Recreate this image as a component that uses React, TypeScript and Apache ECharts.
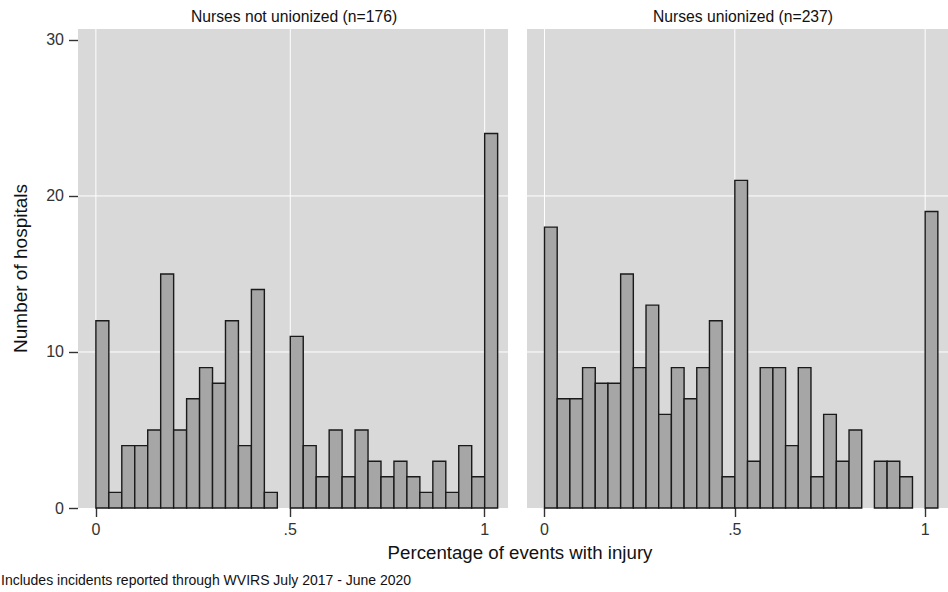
import React, { useEffect, useRef } from 'react';
import * as echarts from 'echarts';

// Histogram bins: width 1/30, starting at 0 (last bin starts at 1)
const binWidth = 1 / 30;
const notUnionized = [12, 1, 4, 4, 5, 15, 5, 7, 9, 8, 12, 4, 14, 1, 0, 11, 4, 2, 5, 2, 5, 3, 2, 3, 2, 1, 3, 1, 4, 2, 24];
const unionized = [18, 7, 7, 9, 8, 8, 15, 9, 13, 6, 9, 7, 9, 12, 2, 21, 3, 9, 9, 4, 9, 2, 6, 3, 5, 0, 3, 3, 2, 0, 19];
const panelTitles = ['Nurses not unionized (n=176)', 'Nurses unionized (n=237)'];
const xTicks = [0, 0.5, 1];
const xTickLabels = ['0', '.5', '1'];
const yTicks = [0, 10, 20, 30];
const yGridLines = [10, 20];
const xTitle = 'Percentage of events with injury';
const yTitle = 'Number of hospitals';
const note = 'Includes incidents reported through WVIRS July 2017 - June 2020';

const FONT = '"Liberation Sans", Arial, Helvetica, sans-serif';

export default function App() {
  const ref = useRef<HTMLDivElement>(null);

  useEffect(() => {
    if (!ref.current) return;
    const chart = echarts.init(ref.current, null, { renderer: 'svg' });

    const panels = [notUnionized, unionized];
    const gridLefts = [78, 527];

    const grids = gridLefts.map((l) => ({
      left: l,
      top: 29,
      width: 430,
      height: 479,
      show: true,
      backgroundColor: '#d9d9d9',
      borderWidth: 0,
      containLabel: false,
    }));

    const xAxes = panels.map((_, i) => ({
      type: 'value',
      gridIndex: i,
      position: 'bottom',
      min: -0.046,
      max: 1.06,
      axisLine: { show: false, onZero: false },
      splitLine: { show: false },
      axisTick: {
        show: true,
        length: 9,
        customValues: xTicks,
        lineStyle: { color: '#333', width: 1.4 },
      },
      axisLabel: {
        customValues: xTicks,
        formatter: (v: number) => {
          const k = xTicks.findIndex((t) => Math.abs(t - v) < 1e-9);
          return k >= 0 ? xTickLabels[k] : '';
        },
        fontSize: 16,
        fontFamily: FONT,
        color: '#333',
        margin: 13,
      },
    }));

    const yAxes = panels.map((_, i) => ({
      type: 'value',
      gridIndex: i,
      position: 'left',
      min: 0,
      max: 30.7,
      axisLine: { show: false, onZero: false },
      splitLine: { show: false },
      axisTick: {
        show: i === 0,
        length: 9,
        customValues: yTicks,
        lineStyle: { color: '#333', width: 1.4 },
      },
      axisLabel: {
        show: i === 0,
        customValues: yTicks,
        fontSize: 16,
        fontFamily: FONT,
        color: '#333',
        margin: 14,
      },
      name: i === 0 ? yTitle : '',
      nameLocation: 'middle',
      nameGap: 48,
      nameTextStyle: { fontSize: 19, fontFamily: FONT, color: '#111' },
    }));

    const gridLineStyle = { stroke: '#ffffff', lineWidth: 1 };

    const series: any[] = [];
    panels.forEach((counts, i) => {
      // vertical white grid lines at the x tick values
      series.push({
        type: 'custom',
        xAxisIndex: i,
        yAxisIndex: i,
        z: 1,
        silent: true,
        data: xTicks.map((v) => [v, 0]),
        encode: { x: 0, y: 1 },
        renderItem: (params: any, api: any) => {
          const cs = params.coordSys;
          const p = api.coord([api.value(0), 0]);
          return {
            type: 'line',
            shape: { x1: p[0], y1: cs.y, x2: p[0], y2: cs.y + cs.height },
            style: gridLineStyle,
          };
        },
      });
      // horizontal white grid lines
      series.push({
        type: 'custom',
        xAxisIndex: i,
        yAxisIndex: i,
        z: 1,
        silent: true,
        data: yGridLines.map((v) => [0, v]),
        encode: { x: 0, y: 1 },
        renderItem: (params: any, api: any) => {
          const cs = params.coordSys;
          const p = api.coord([0, api.value(1)]);
          return {
            type: 'line',
            shape: { x1: cs.x, y1: p[1], x2: cs.x + cs.width, y2: p[1] },
            style: gridLineStyle,
          };
        },
      });
      // histogram bars
      series.push({
        type: 'custom',
        xAxisIndex: i,
        yAxisIndex: i,
        z: 3,
        data: counts.map((c, k) => [k * binWidth, (k + 1) * binWidth, c]),
        encode: { x: [0, 1], y: 2 },
        renderItem: (_p: any, api: any) => {
          const x0 = api.value(0);
          const x1 = api.value(1);
          const y = api.value(2);
          if (!y) return { type: 'group', children: [] };
          const a = api.coord([x0, y]);
          const b = api.coord([x1, 0]);
          return {
            type: 'rect',
            shape: { x: a[0], y: a[1], width: b[0] - a[0], height: b[1] - a[1] },
            style: { fill: '#a6a6a6', stroke: '#1a1a1a', lineWidth: 1.4 },
          };
        },
      });
    });

    const textStyle = (size: number, color: string) => ({
      fontSize: size,
      fontFamily: FONT,
      fill: color,
    });

    chart.setOption({
      animation: false,
      backgroundColor: '#ffffff',
      grid: grids,
      xAxis: xAxes,
      yAxis: yAxes,
      series,
      graphic: [
        {
          type: 'text',
          x: 294,
          y: 16,
          style: { ...textStyle(15.7, '#111'), text: panelTitles[0], textAlign: 'center', textVerticalAlign: 'middle' },
        },
        {
          type: 'text',
          x: 743,
          y: 16,
          style: { ...textStyle(15.7, '#111'), text: panelTitles[1], textAlign: 'center', textVerticalAlign: 'middle' },
        },
        {
          type: 'text',
          x: 520,
          y: 552,
          style: { ...textStyle(18.7, '#111'), text: xTitle, textAlign: 'center', textVerticalAlign: 'middle' },
        },
        {
          type: 'text',
          x: 1,
          y: 580,
          style: { ...textStyle(14, '#111'), text: note, textAlign: 'left', textVerticalAlign: 'middle' },
        },
      ],
    });

    return () => chart.dispose();
  }, []);

  return (
    <div
      ref={ref}
      style={{ position: 'absolute', left: 0, top: 0, width: 948, height: 592 }}
    />
  );
}
